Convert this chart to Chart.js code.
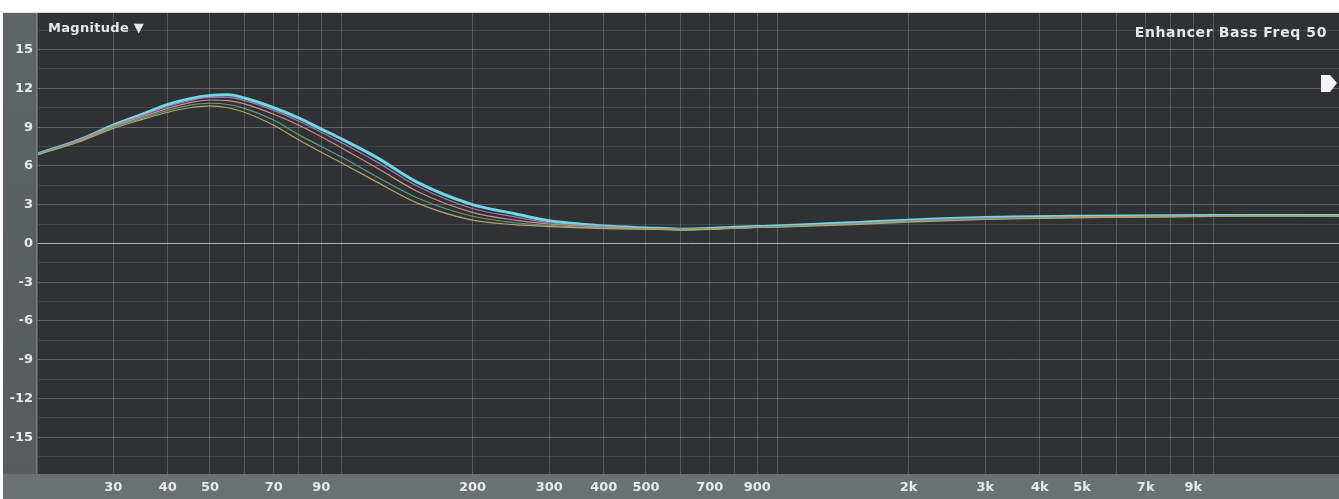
<!DOCTYPE html>
<html>
<head>
<meta charset="utf-8">
<script src="https://cdn.jsdelivr.net/npm/chart.js@4/dist/chart.umd.min.js"></script>
<style>
  html, body { margin: 0; padding: 0; background: #ffffff; }
  #wrap { width: 1339px; height: 499px; position: relative; }
  canvas { display: block; }
</style>
</head>
<body>
<div id="wrap"><canvas id="c" width="1339" height="499"></canvas></div>
<script>
// Frequency points (Hz) at which each response curve is sampled
const freqs = [20, 25, 30, 35, 40, 45, 50, 55, 60, 70, 80, 90, 100, 120, 150, 200, 250, 300, 400, 500, 600, 700, 800, 1000, 1500, 2000, 3000, 5000, 10000, 20000];

// Magnitude responses (dB)
const respCyan   = [6.9, 8.0, 9.15, 10.0, 10.75, 11.2, 11.45, 11.5, 11.25, 10.5, 9.7, 8.85, 8.1, 6.7, 4.7, 3.0, 2.3, 1.75, 1.35, 1.2, 1.1, 1.15, 1.25, 1.35, 1.6, 1.8, 2.0, 2.1, 2.15, 2.15];
const respPurple = [6.9, 8.0, 9.1, 9.9, 10.6, 11.05, 11.3, 11.3, 11.05, 10.3, 9.45, 8.6, 7.8, 6.35, 4.4, 2.7, 2.05, 1.6, 1.3, 1.15, 1.1, 1.15, 1.2, 1.3, 1.55, 1.75, 1.95, 2.05, 2.1, 2.15];
const respPink   = [6.9, 7.95, 9.05, 9.8, 10.45, 10.9, 11.1, 11.05, 10.8, 10.0, 9.15, 8.25, 7.4, 5.9, 4.0, 2.4, 1.8, 1.5, 1.25, 1.15, 1.1, 1.15, 1.2, 1.3, 1.5, 1.7, 1.9, 2.05, 2.1, 2.15];
const respGreen  = [6.9, 7.9, 9.0, 9.7, 10.3, 10.7, 10.85, 10.75, 10.45, 9.55, 8.4, 7.5, 6.7, 5.2, 3.5, 2.1, 1.6, 1.4, 1.2, 1.1, 1.1, 1.1, 1.2, 1.3, 1.5, 1.7, 1.9, 2.0, 2.1, 2.15];
const respYellow = [6.85, 7.85, 8.9, 9.6, 10.15, 10.5, 10.65, 10.5, 10.15, 9.15, 8.0, 7.05, 6.25, 4.8, 3.1, 1.8, 1.45, 1.3, 1.15, 1.1, 1.05, 1.1, 1.2, 1.25, 1.45, 1.65, 1.85, 2.0, 2.1, 2.15];

// Axis ticks
const xGridFreqs = [20, 30, 40, 50, 60, 70, 80, 90, 100, 200, 300, 400, 500, 600, 700, 800, 900, 1000, 2000, 3000, 4000, 5000, 6000, 7000, 8000, 9000, 10000];
const xLabelFreqs = [30, 40, 50, 70, 90, 200, 300, 400, 500, 700, 900, 2000, 3000, 4000, 5000, 7000, 9000];
const yMajorTicks = [-15, -12, -9, -6, -3, 0, 3, 6, 9, 12, 15];

const titleLeft = 'Magnitude \u25BC';
const titleRight = 'Enhancer Bass Freq 50';

function pts(vals) { return freqs.map((f, i) => ({ x: f, y: vals[i] })); }
function fmtFreq(v) { return v >= 1000 ? (v / 1000) + 'k' : String(v); }

const thinLine = (label, vals, color) => ({
  label, data: pts(vals), borderColor: color, borderWidth: 1.2,
  pointRadius: 0, cubicInterpolationMode: 'monotone', fill: false
});

const panelPlugin = {
  id: 'panel',
  beforeDraw(chart) {
    const { ctx, chartArea: a, width, height } = chart;
    ctx.save();
    ctx.fillStyle = '#ffffff';
    ctx.fillRect(0, 0, width, height);
    // left value strip
    const g = ctx.createLinearGradient(0, a.top, 0, a.bottom);
    g.addColorStop(0, '#5f6466');
    g.addColorStop(1, '#575b5e');
    ctx.fillStyle = g;
    ctx.fillRect(3, a.top, a.left - 3, a.bottom - a.top);
    // bottom frequency strip
    ctx.fillStyle = '#6b7172';
    ctx.fillRect(3, a.bottom, width - 3, height - a.bottom);
    // plot background
    ctx.fillStyle = '#303135';
    ctx.fillRect(a.left, a.top, a.right - a.left, a.bottom - a.top);
    ctx.restore();
  },
  afterDraw(chart) {
    const { ctx } = chart;
    ctx.save();
    ctx.fillStyle = '#e6e8e8';
    ctx.textBaseline = 'alphabetic';
    ctx.font = 'bold 13px "DejaVu Sans", sans-serif';
    ctx.letterSpacing = '0.3px';
    ctx.textAlign = 'left';
    ctx.fillText(titleLeft, 48, 32);
    ctx.font = 'bold 14px "DejaVu Sans", sans-serif';
    ctx.letterSpacing = '0.6px';
    ctx.textAlign = 'right';
    ctx.fillText(titleRight, 1327, 37);
    ctx.letterSpacing = '0px';
    // output marker at the right edge
    ctx.fillStyle = '#f4f4f4';
    ctx.beginPath();
    ctx.moveTo(1321, 75);
    ctx.lineTo(1330, 75);
    ctx.lineTo(1337, 83);
    ctx.lineTo(1330, 92);
    ctx.lineTo(1321, 92);
    ctx.closePath();
    ctx.fill();
    ctx.restore();
  }
};

new Chart(document.getElementById('c'), {
  type: 'line',
  data: {
    datasets: [
      thinLine('yellow', respYellow, '#b2a566'),
      thinLine('green', respGreen, '#5f9e86'),
      thinLine('pink', respPink, '#d88a7c'),
      thinLine('purple', respPurple, '#8d80c0'),
      {
        label: 'cyan', data: pts(respCyan), borderColor: '#72d6e4', borderWidth: 3,
        pointRadius: 0, cubicInterpolationMode: 'monotone', fill: false
      }
    ]
  },
  options: {
    responsive: false,
    animation: false,
    devicePixelRatio: 1,
    layout: { padding: { top: 10, left: 0, right: 0, bottom: 0 } },
    plugins: { legend: { display: false }, tooltip: { enabled: false }, title: { display: false } },
    scales: {
      x: {
        type: 'logarithmic',
        min: 20.16,
        max: 19430,
        afterBuildTicks(scale) { scale.ticks = xGridFreqs.map(v => ({ value: v })); },
        afterFit(scale) { scale.height = 25; },
        border: { display: false },
        grid: { color: 'rgba(190,195,200,0.28)', lineWidth: 1, drawTicks: false },
        ticks: {
          autoSkip: false, maxRotation: 0, padding: 6,
          color: '#e8eaea',
          font: { family: '"DejaVu Sans", sans-serif', size: 13, weight: 'bold' },
          callback: (v) => xLabelFreqs.includes(v) ? fmtFreq(v) : ''
        }
      },
      y: {
        min: -17.85,
        max: 17.85,
        afterBuildTicks(scale) {
          const t = [];
          yMajorTicks.forEach(v => { t.push({ value: v }); t.push({ value: v + 1.5 }); });
          t.push({ value: -16.5 });
          scale.ticks = t.sort((p, q) => p.value - q.value);
        },
        afterFit(scale) { scale.width = 38; },
        border: { display: false },
        grid: {
          drawTicks: false,
          color: (c) => {
            const v = c.tick ? c.tick.value : null;
            if (v === 0) return 'rgba(225,228,232,0.7)';
            return yMajorTicks.includes(v) ? 'rgba(190,195,205,0.35)' : 'rgba(150,160,190,0.18)';
          }
        },
        ticks: {
          autoSkip: false, padding: 5,
          color: '#e8eaea',
          font: { family: '"DejaVu Sans", sans-serif', size: 13, weight: 'bold' },
          callback: (v) => yMajorTicks.includes(v) ? String(v) : ''
        }
      }
    }
  },
  plugins: [panelPlugin]
});
</script>
</body>
</html>
